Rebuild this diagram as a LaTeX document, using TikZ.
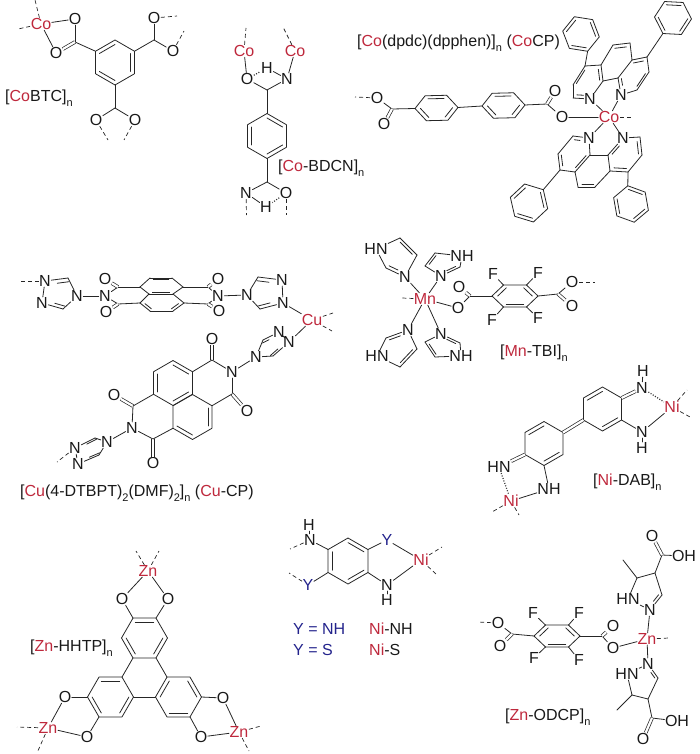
\documentclass[tikz,border=0pt]{standalone}
\usepackage{fontspec}
\setmainfont{Liberation Sans}
\usetikzlibrary{calc}

\definecolor{metalred}{RGB}{190,40,60}
\definecolor{ylig}{RGB}{35,35,140}
\newcommand{\rd}[1]{\textcolor{metalred}{#1}}
\newcommand{\lsub}[1]{\raisebox{-0.3em}{\fontsize{11}{12}\selectfont #1}}

\tikzset{ bond/.style={line width=.8pt, black!85, line cap=round, line join=round}
        , dbond/.style={bond, double, double distance=2.2pt, line cap=butt, line width=.7pt}
        , loose/.style={line width=.7pt, black!85, dash pattern=on 4pt off 3pt}
        , hashb/.style={line width=1.2pt, black!80, dash pattern=on 1pt off 1.6pt}
        , atom/.style={inner sep=.6pt, outer sep=0pt, font=\fontsize{16}{17}\selectfont, black!90}
        , metal/.style={atom, text=metalred}
        , ylink/.style={atom, text=ylig}
        , tag/.style={anchor=west, inner sep=0pt, font=\fontsize{16}{17}\selectfont, black!90}
        }

% #1 squash in y, #2 name, #3 #4 centre, #5 radius, #6 angle of vertex 0
\newcommand{\hexring}[6][1]{
  \coordinate (#2) at (#3,#4);
  \foreach \k in {0,...,5} {
    \pgfmathsetmacro{\px}{#3+#5*cos(#6+60*\k)}
    \pgfmathsetmacro{\py}{#4+#1*#5*sin(#6+60*\k)}
    \coordinate (#2\k) at (\px,\py);
  }
  \draw [bond] (#20) -- (#21) -- (#22) -- (#23) -- (#24) -- (#25) -- cycle;
}
\newcommand{\hexdbl}[3][.2]{
  \foreach \k in {#3} {
    \pgfmathtruncatemacro{\m}{mod(\k+1,6)}
    \draw [bond] ($(#2\k)!#1!(#2)$) -- ($(#2\m)!#1!(#2)$);
  }
}
\newcommand{\atoms}[3][atom]{\foreach \n/\x/\y in {#3} \node (\n) [#1] at (\x,\y) {#2};}
\newcommand{\carbons}[1]{\foreach \n/\x/\y in {#1} \coordinate (\n) at (\x,\y);}
\newcommand{\bonds}[1]{\foreach \a/\b in {#1} \draw [bond] (\a) -- (\b);}
\newcommand{\dbonds}[1]{\foreach \a/\b in {#1} \draw [dbond] (\a) -- (\b);}
\newcommand{\inners}[1]{\foreach \a/\b/\c in {#1} \draw [bond, shorten >=1pt, shorten <=1pt] ($(\a)!.2!(\c)$) -- ($(\b)!.2!(\c)$);}
% first one of each triple is the lettered atom
\newcommand{\hetinners}[1]{\foreach \a/\b/\c in {#1} \draw [bond, shorten >=1pt, shorten <=6pt] ($(\a)!.2!(\c)$) -- ($(\b)!.2!(\c)$);}
\newcommand{\looseends}[1]{\foreach \n/\x/\y [count=\i] in {#1} {
    \coordinate (\n end\i) at (\x,\y);
    \draw [loose] (\n) -- (\n end\i);
  }}

\begin{document}
\begin{tikzpicture}[x=1pt, y=-1pt]

  \useasboundingbox (0,0) rectangle (700,754);

  % [CoBTC]
  \hexring{btc}{115}{62.5}{22.5}{-90}
  \hexdbl{btc}{1,3,5}
  \atoms[metal]{Co}{btcco/41/24}
  \atoms{O}{btcoa/75/19, btcob/56/53, btcoc/154/18, btcod/173/51, btcoe/96/120, btcof/135/120}
  \carbons{btcca/75/42, btccb/154/40, btccc/115/108}
  \bonds{btcca/btc5, btccb/btc1, btccc/btc3, btcco/btcoa, btcco/btcob, btcca/btcoa,
         btccb/btcoc, btccb/btcod, btccc/btcoe, btccc/btcof}
  \dbonds{btcca/btcob}
  \looseends{btcco/35/0, btcco/18/29, btcoc/177/16, btcod/184/31, btcoe/108/140, btcof/124/140}
  \node (btctag) [tag] at (5,98) {[\rd{Co}BTC]\lsub{n}};

  % [Co-BDCN]
  \hexring{bd}{267}{136}{22.5}{-90}
  \hexdbl{bd}{0,2,4}
  \atoms[metal]{Co}{bdcoa/244/51, bdcob/295/51}
  \atoms{O}{bdoa/247/79, bdob/286/193}
  \atoms{N}{bdna/287/79, bdnb/246/193}
  \atoms{H}{bdha/267/68, bdhb/266/207}
  \carbons{bdca/267/90, bdcb/267/182}
  \bonds{bdca/bd0, bdcb/bd3, bdca/bdoa, bdca/bdna, bdcb/bdob, bdcb/bdnb, bdcoa/bdoa,
         bdcob/bdna, bdha/bdna, bdhb/bdnb}
  \foreach \a/\b in {bdoa/bdha, bdob/bdhb} \draw [hashb] (\a) -- (\b);
  \looseends{bdcoa/246/28, bdcob/283/27, bdnb/246.5/215, bdob/286/215}
  \node (bdtag) [tag] at (278,168) {[\rd{Co}-BDCN]\lsub{n}};

  % [Co(dpdc)(dpphen)]
  \hexring[.67]{dpa}{436.5}{108}{21.5}{-2}
  \hexring[.67]{dpb}{503.5}{105.5}{21.5}{-2}
  \hexdbl[.25]{dpa}{0,2,4}
  \hexdbl[.25]{dpb}{0,2,4}
  \atoms[metal]{Co}{cpco/609/117}
  \atoms{O}{cpoa/377/98, cpob/384/124, cpoc/555/91, cpod/562/117}
  \atoms{N}{cpna/590/99, cpnb/621/95, cpnc/589/138, cpnd/623/138}
  \carbons{cpca/392/109, cpcb/547/104,
           ua/573/98, ub/573/85, uc/585/66, ud/601/65, ue/603/81, uf/613/45, ug/630/43,
           uh/632/60, ui/618/78, uj/647/57, uk/649/72, ul/637/90,
           uca/587/82, ucb/617/62, ucc/634/76,
           la/573/136, lb/558/154, lc/560/170, ld/575/172, le/590/155, lf/640/137, lg/642/155,
           lh/628/172, li/610/171, lj/608/155, lk/578/187, lm/595/187,
           lca/574/154, lcb/625/155, lcc/593/172}
  \bonds{cpoa/cpca, cpca/dpa3, dpa0/dpb3, dpb0/cpcb, cpcb/cpod, cpod/cpco, cpna/cpco, cpnb/cpco,
         cpnc/cpco, cpnd/cpco,
         cpna/ua, ua/ub, ub/uc, uc/ud, ud/ue, ue/cpna, ud/uf, uf/ug, ug/uh, uh/ui, ui/ue,
         uh/uj, uj/uk, uk/ul, ul/cpnb, cpnb/ui,
         cpnc/la, la/lb, lb/lc, lc/ld, ld/le, le/cpnc, le/lj, lj/cpnd, cpnd/lf, lf/lg, lg/lh,
         lh/li, li/lj, ld/lk, lk/lm, lm/li}
  \dbonds{cpca/cpob, cpcb/cpoc}
  \inners{ub/uc/uca, ud/ue/uca, uf/ug/ucb, uh/uj/ucc, uk/ul/ucc,
          lb/lc/lca, ld/le/lca, lf/lg/lcb, lh/li/lcb, lk/lm/lcc}
  \hetinners{cpna/ua/uca, cpnb/ui/ucc, cpnc/la/lca, cpnd/lj/lcb}
  \hexring{pha}{581}{34}{18.5}{69}
  \hexring{phb}{673}{18}{18.5}{123}
  \hexring{phc}{529}{203}{19.5}{-43}
  \hexring{phd}{631}{204}{18.5}{-100}
  \foreach \r in {pha,phb,phc,phd} \hexdbl{\r}{0,2,4};
  \bonds{uc/pha0, uj/phb0, lc/phc0, lh/phd0}
  \looseends{cpoa/355/97, cpco/632/117}
  \node (cptag) [tag] at (357,43) {[\rd{Co}(dpdc)(dpphen)]\lsub{n} (\rd{Co}CP)};

  % [Cu(4-DTBPT)2(DMF)2]
  \atoms[metal]{Cu}{cucu/312/320}
  \atoms{N}{tna/45/281, tnb/42/303, tnc/77/296, tnd/105/296, tne/218/296, tnf/247/295, tng/282/280, tnh/283/303,
            mna/289/342, mnb/279/332, mnc/256/357, mnd/232/372, mne/132/428, mnf/107/442, mng/75/448, mnh/78/464}
  \atoms{O}{toa/105/279, tob/106/312, toc/218/279, tod/219/311, moa/212/339, mob/247/411, moc/114/395, mod/153/463}
  \carbons{tca/63/309, tcb/68/278, tcc/118/287, tcd/118/304, tcm/208/287, tcn/208/304, tcp/258/277, tcq/260/309,
           tpa/140/287, tpb/150/278, tpc/172/278, tpd/183/287, tpe/173/294, tpf/149/294,
           tpg/184/303, tph/173/311, tpi/150/311, tpj/140/303, tpu/161/286, tpl/161/303,
           mca/263/340, mcb/273/356, mcc/212/360, mcd/232/394, mce/133/406, mcf/153/439, mcg/95/438, mch/99/455}
  \bonds{tna/tcb, tcb/tnc, tnc/tca, tca/tnb, tnb/tna, tnc/tnd, tnd/tcc, tnd/tcd, tcc/tpa, tcd/tpj,
         tpa/tpb, tpb/tpc, tpc/tpd, tpd/tpe, tpe/tpf, tpf/tpa, tpf/tpj, tpj/tpi, tpi/tph, tph/tpg, tpg/tpe,
         tpd/tcm, tpg/tcn, tcm/tne, tcn/tne, tne/tnf, tnf/tcp, tcp/tng, tng/tnh, tnh/tcq, tcq/tnf, tnh/cucu,
         cucu/mna, mna/mnb, mnb/mca, mca/mnc, mnc/mcb, mcb/mna, mnc/mnd,
         mnd/mcc, mnd/mcd, mne/mce, mne/mcf, mne/mnf, mnf/mcg, mcg/mng, mng/mnh, mnh/mch, mch/mnf}
  \dbonds{tcc/toa, tcd/tob, tcm/toc, tcn/tod, mcc/moa, mcd/mob, mce/moc, mcf/mod}
  \inners{tpb/tpc/tpu, tpf/tpe/tpu, tpj/tpi/tpl, tpg/tph/tpl}
  \hetinners{tna/tcb/tnc, tnb/tca/tnc, tng/tcp/tnf, tnh/tcq/tnf,
          mnb/mca/mnc, mna/mcb/mnc, mng/mcg/mnf, mnh/mch/mnf}
  \hexring{nda}{173}{383}{22.5}{-90}
  \hexring{ndb}{192.5}{417}{22.5}{-90}
  \hexdbl{nda}{0,2,4}
  \hexdbl{ndb}{1,3}
  \bonds{nda1/mcc, ndb1/mcd, nda4/mce, ndb4/mcf}
  \looseends{tna/18/281, cucu/333/313, cucu/332/331, mng/57/462}
  \node (cutag) [tag] at (20,493) {[\rd{Cu}(4-DTBPT)\lsub{2}(DMF)\lsub{2}]\lsub{n} (\rd{Cu}-CP)};

  % [Mn-TBI]
  \hexring[.55]{mnr}{515}{296}{23}{0}
  \hexdbl[.25]{mnr}{1,3,5}
  \atoms[metal]{Mn}{mnmn/425/299}
  \atoms{O}{mno/458/308, mnp/459/287, mnq/572/282, mns/572/306}
  \atoms{F}{mnfa/493/274, mnfb/538/273, mnfc/492/320, mnfd/538/318}
  \atoms{N}{ima/405/277, imb/441/276, imc/408/330, imd/441/334}
  \atoms{HN}{ime/376/249, img/377/356}
  \atoms{NH}{imf/462/256, imh/461/356}
  \carbons{mnca/470/296, mncb/558/294,
           iaa/386/268, iab/400/238, iac/417/255, iba/460/267, ibb/435/253, ibc/425/266,
           ica/386/338, icb/400/367, icc/417/349, ida/460/343, idb/435/357, idc/425/342,
           iax/397/255, ibx/443/262, icx/398/349, idx/443/348}
  \bonds{mnmn/mno, mno/mnca, mnca/mnr3, mnr0/mncb, mncb/mnq, mnr4/mnfa, mnr5/mnfb, mnr2/mnfc, mnr1/mnfd,
         mnmn/ima, mnmn/imb, mnmn/imc, mnmn/imd,
         ima/iaa, iaa/ime, ime/iab, iab/iac, iac/ima, imb/iba, iba/imf, imf/ibb, ibb/ibc, ibc/imb,
         imc/ica, ica/img, img/icb, icb/icc, icc/imc, imd/ida, ida/imh, imh/idb, idb/idc, idc/imd}
  \dbonds{mnca/mnp, mncb/mns}
  \inners{iab/iac/iax, ibb/ibc/ibx, icb/icc/icx, idb/idc/idx}
  \hetinners{ima/iaa/iax, imb/iba/ibx, imc/ica/icx, imd/ida/idx}
  \looseends{mnmn/402/298, mnq/595/282}
  \node (mntag) [tag] at (500,353) {[\rd{Mn}-TBI]\lsub{n}};

  % [Ni-DAB]
  \hexring{daa}{602.5}{409}{22}{-90}
  \hexring{dab}{544}{443.5}{22}{-90}
  \hexdbl{daa}{5,2}
  \hexdbl{dab}{5,2}
  \atoms[metal]{Ni}{dani/672/407, danj/511/501}
  \atoms{N}{dana/642/388, danb/642/432}
  \atoms{H}{daha/643/371, dahb/642/448}
  \atoms{HN}{danc/499/467}
  \atoms{NH}{dand/549/489}
  \bonds{daa2/danb, danb/dani, dana/daha, danb/dahb, dab3/dand, dand/danj}
  \dbonds{daa1/dana, dab4/danc}
  \draw [dbond] (daa4) -- (dab1);
  \foreach \a/\b in {dana/dani, danc/danj} \draw [hashb] (\a) -- (\b);
  \looseends{dani/687/390, dani/690/417, danj/492/512, danj/519/515}
  \node (datag) [tag] at (593,482) {[\rd{Ni}-DAB]\lsub{n}};

  % [Zn-HHTP]
  \hexring{hha}{144.5}{638}{23}{0}
  \hexring{hhb}{110.5}{697}{23}{0}
  \hexring{hhc}{178.5}{697}{23}{0}
  \hexdbl{hha}{4,0,2}
  \hexdbl{hhb}{4,0,2}
  \hexdbl{hhc}{3,1,5}
  \atoms[metal]{Zn}{hhza/148/571, hhzb/48/728, hhzc/239/732}
  \atoms{O}{hhoa/122/599, hhob/168/599, hhoc/65/697, hhod/87/737, hhoe/223/698, hhof/201/737}
  \bonds{hha1/hhc4, hha2/hhb5, hhb0/hhc3, hha4/hhoa, hha5/hhob, hhb3/hhoc, hhb2/hhod, hhc0/hhoe, hhc1/hhof,
         hhza/hhoa, hhza/hhob, hhzb/hhoc, hhzb/hhod, hhzc/hhoe, hhzc/hhof}
  \looseends{hhza/136/551, hhza/159/551, hhzb/17/727, hhzb/37/753, hhzc/261/726, hhzc/249/751}
  \node (hhtag) [tag] at (30,648) {[\rd{Zn}-HHTP]\lsub{n}};

  % Ni-NH and Ni-S
  \hexring{nir}{348}{561}{23}{-90}
  \hexdbl{nir}{0,2,4}
  \atoms[metal]{Ni}{nini/421/560}
  \atoms{N}{nina/310/540, ninb/387/585}
  \atoms{H}{niha/309/525, nihb/387/600}
  \atoms[ylink]{Y}{niya/387/540, niyb/308/585}
  \bonds{nir5/nina, nir1/niya, nir2/ninb, nir4/niyb, niya/nini, ninb/nini, nina/niha, ninb/nihb}
  \looseends{nina/290/549, niyb/289/573, nini/442/547, nini/437/575}
  \node (nilga) [tag, text=ylig] at (293,629) {Y = NH};
  \node (nilgb) [tag, text=ylig] at (293,650) {Y = S};
  \node (nilgc) [tag] at (369,629) {\rd{Ni}-NH};
  \node (nilgd) [tag] at (369,650) {\rd{Ni}-S};

  % [Zn-ODCP]
  \hexring[.55]{odr}{557}{636}{23}{0}
  \hexdbl[.25]{odr}{1,3,5}
  \atoms[metal]{Zn}{odzn/647/639}
  \atoms{O}{odoa/613/648, odob/613/626, odoc/498/623, odod/500/646, odoe/652/536, odof/643/739}
  \atoms{F}{odfa/533/613, odfb/579/613, odfc/534/658, odfd/579/660}
  \atoms{N}{odna/650/610, odnb/648/664}
  \atoms{HN}{odnc/628/599, odnd/627/674}
  \atoms{OH}{odha/684/556, odhb/677/721}
  \carbons{odca/602/636, odcb/512/634, odua/637/578, odub/655/573, oduc/662/595, odum/623/560, oduk/662/555,
           odla/632/695, odlb/648/699, odlc/658/678, odlm/617/710, odlk/652/718, odux/648/590, odlx/645/682}
  \bonds{odr0/odca, odca/odoa, odoa/odzn, odr3/odcb, odcb/odoc, odr4/odfa, odr5/odfb, odr2/odfc, odr1/odfd,
         odzn/odna, odzn/odnb, odna/odnc, odnc/odua, odua/odub, odub/oduc, oduc/odna, odua/odum, odub/oduk, oduk/odha,
         odnb/odnd, odnd/odla, odla/odlb, odlb/odlc, odlc/odnb, odla/odlm, odlb/odlk, odlk/odhb}
  \dbonds{odca/odob, odcb/odod, oduk/odoe, odlk/odof}
  \hetinners{odna/oduc/odux, odnb/odlc/odlx}
  \looseends{odoc/478/622, odzn/669/638}
  \node (odtag) [tag] at (505,717) {[\rd{Zn}-ODCP]\lsub{n}};

\end{tikzpicture}
\end{document}
